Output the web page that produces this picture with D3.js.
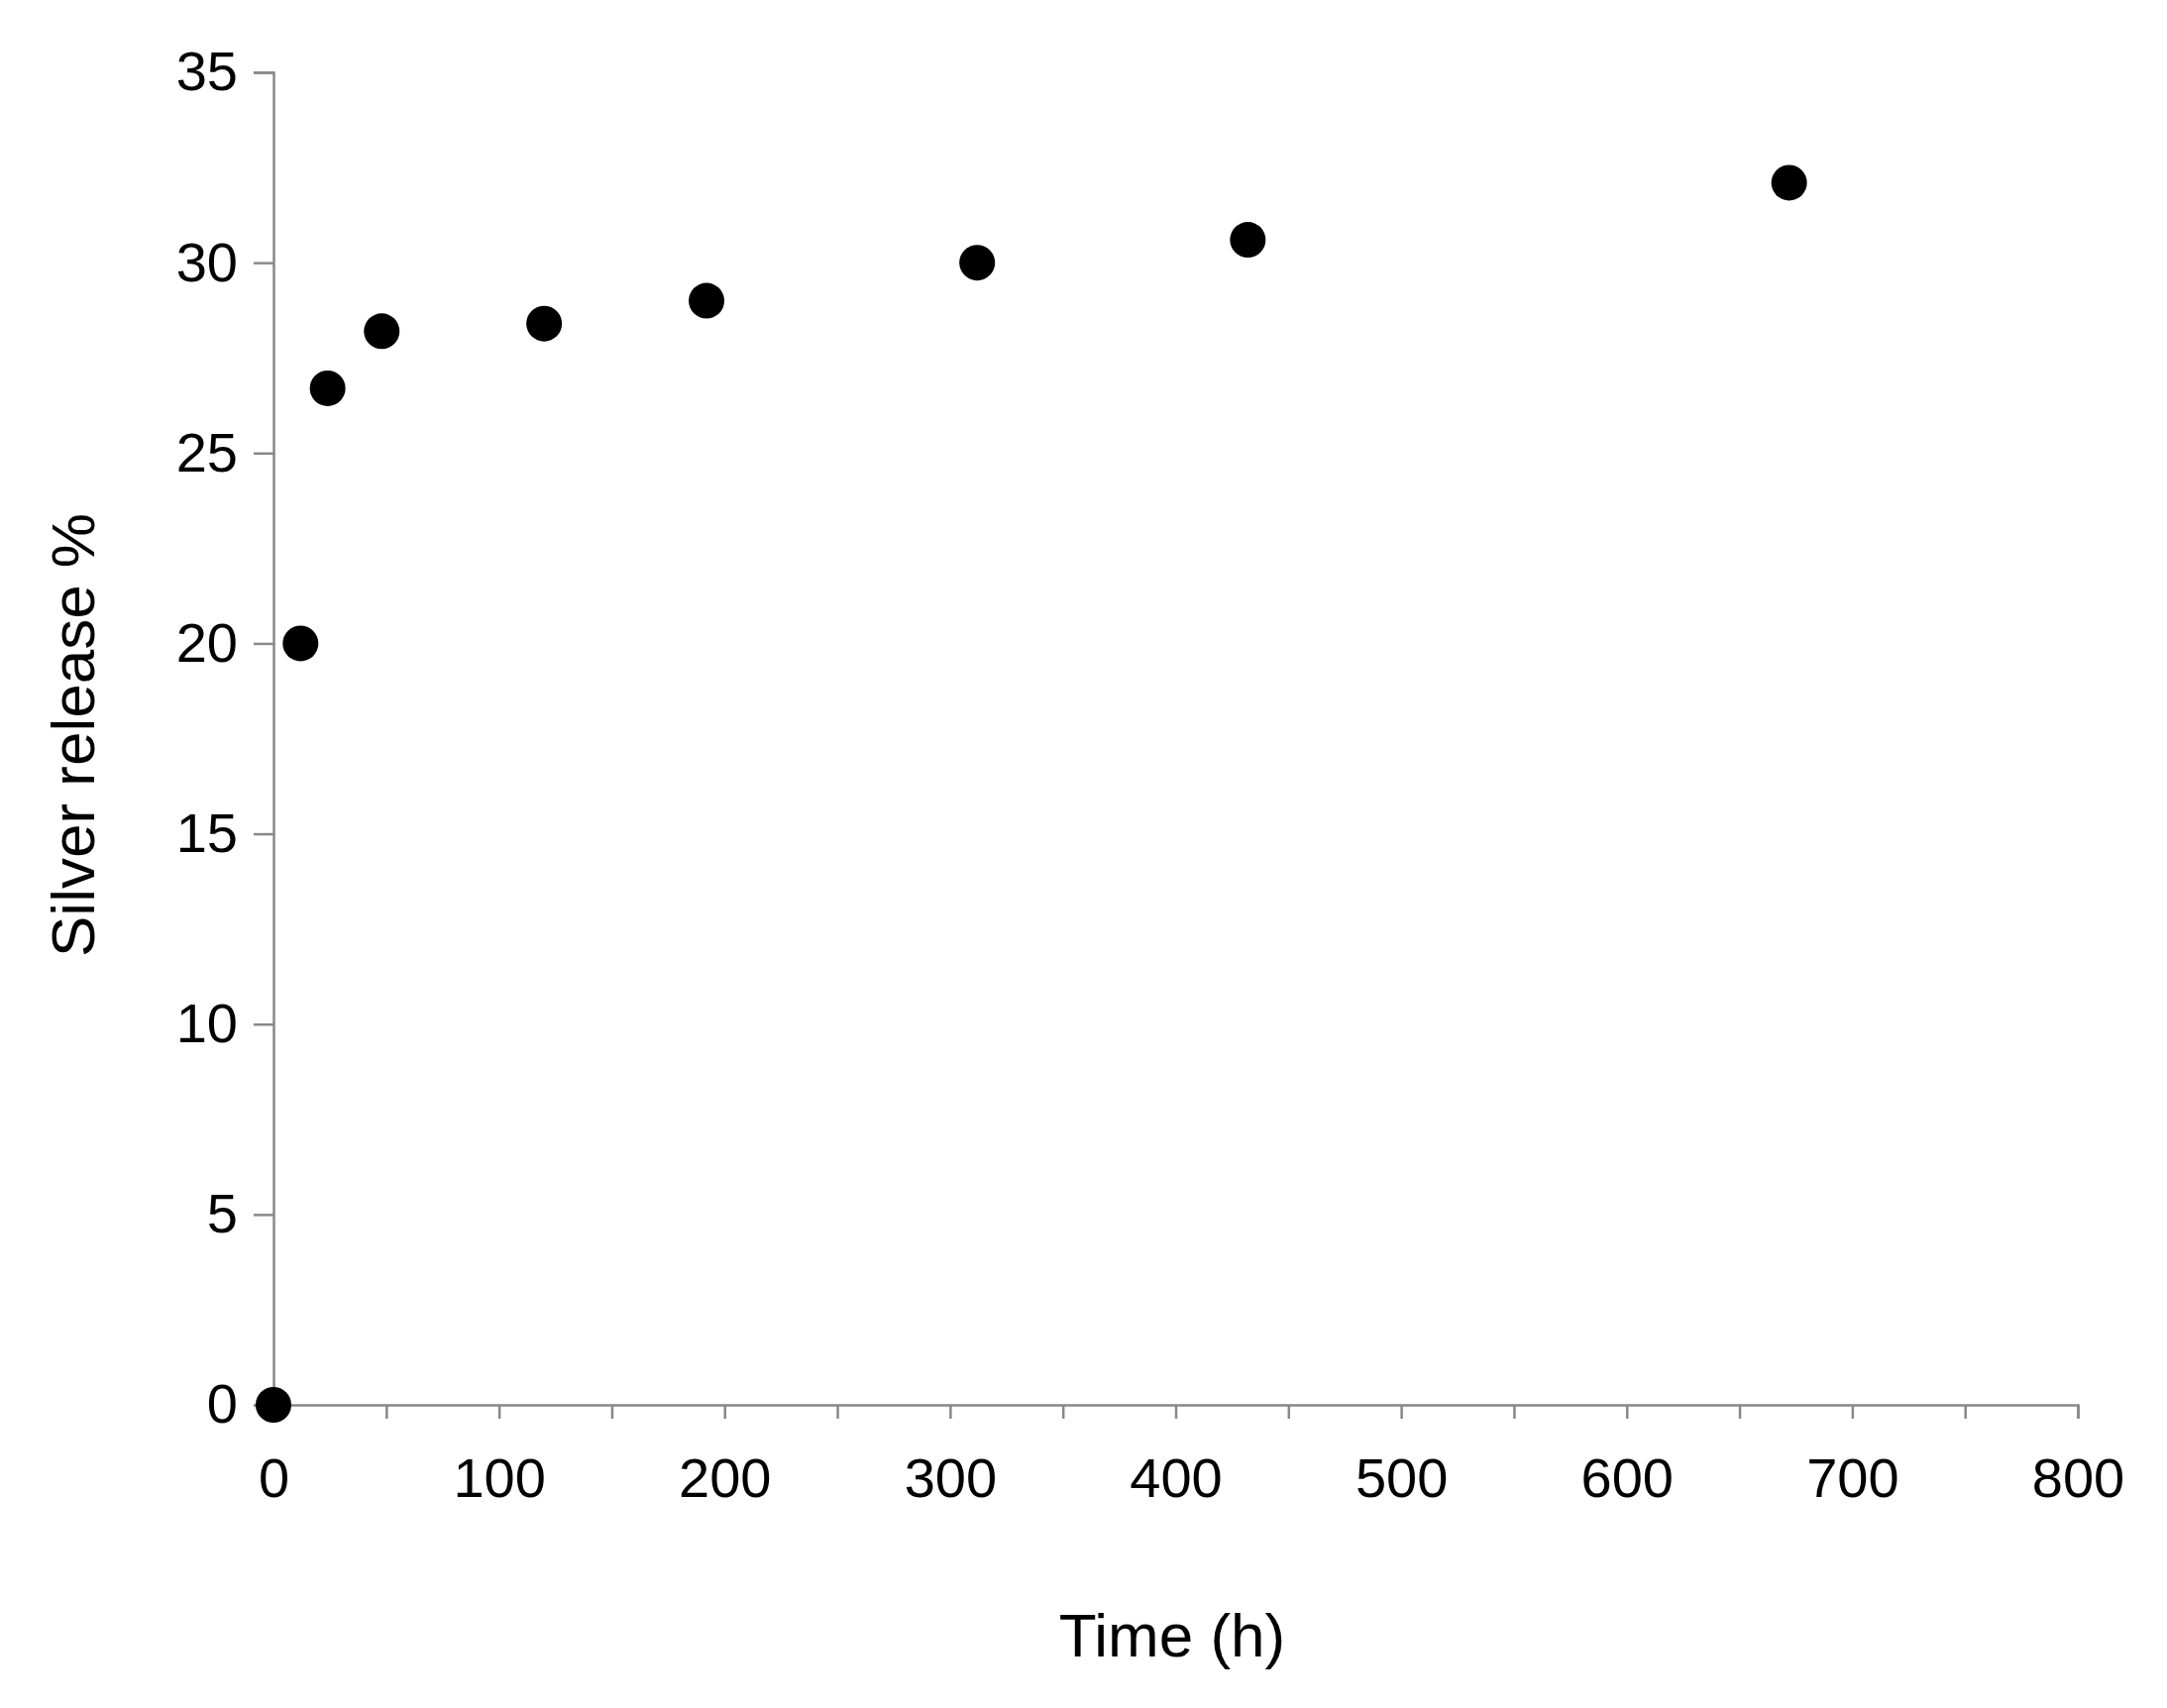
<!DOCTYPE html><html><head><script src="https://cdn.jsdelivr.net/npm/d3@7"></script>
<style>body{margin:0;background:#fff}text{font-family:"Liberation Sans",Arial,sans-serif;fill:#000}</style></head><body>
<script>
const timeH=[0,12,24,48,120,192,312,432,672];
const release=[0,20,26.7,28.2,28.4,29,30,30.6,32.1];
const xTicks=[0,100,200,300,400,500,600,700,800];
const yTicks=[0,5,10,15,20,25,30,35];
const W=2187,H=1724;
const svg=d3.select("body").append("svg").attr("width",W).attr("height",H);
const x=d3.scaleLinear().domain([0,800]).range([276,2097]);
const y=d3.scaleLinear().domain([0,35]).range([1418,73]);
const xa=svg.append("g").attr("transform","translate(0,1418)")
 .call(d3.axisBottom(x).tickValues(d3.range(0,801,50)).tickSize(14).tickFormat(d=>d%100===0?d:""));
xa.selectAll("text").attr("font-size",56).attr("dy","1.35em");
const ya=svg.append("g").attr("transform","translate(276,0)")
 .call(d3.axisLeft(y).tickValues(yTicks).tickSize(20).tickPadding(16));
ya.selectAll("text").attr("font-size",56);
svg.selectAll(".domain,.tick line").attr("stroke","#888").attr("stroke-width",2.5);
svg.selectAll("circle").data(timeH).join("circle")
 .attr("cx",d=>x(d)).attr("cy",(d,i)=>y(release[i])).attr("r",18).attr("fill","#000");
svg.append("text").attr("x",1183).attr("y",1672).attr("text-anchor","middle").attr("font-size",62).text("Time (h)");
svg.append("text").attr("transform","translate(95,742) rotate(-90)").attr("text-anchor","middle").attr("font-size",62).text("Silver release %");
</script></body></html>
